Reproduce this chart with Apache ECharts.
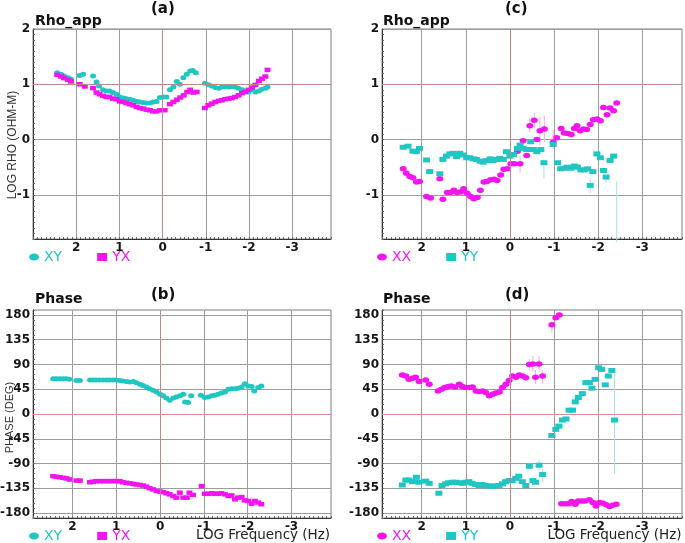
<!DOCTYPE html>
<html><head><meta charset="utf-8">
<script src="https://cdn.jsdelivr.net/npm/echarts@6/dist/echarts.min.js"></script>
<style>html,body{margin:0;padding:0;background:#fff}#c{width:685px;height:543px}</style>
</head><body><div id="c"></div>
<script>
// ---------- data: [log10 frequency (Hz), value] ----------
const rhoXY = [[2.44,1.21],[2.35,1.18],[2.28,1.15],[2.19,1.12],[2.12,1.09],[1.92,1.16],[1.84,1.18],[1.61,1.15],[1.53,1.04],[1.47,0.97],[1.38,0.90],[1.30,0.88],[1.23,0.88],[1.15,0.85],[1.07,0.82],[0.99,0.77],[0.91,0.75],[0.84,0.74],[0.76,0.73],[0.68,0.71],[0.60,0.69],[0.53,0.68],[0.45,0.67],[0.37,0.66],[0.29,0.66],[0.22,0.68],[0.14,0.69],[0.06,0.76],[-0.02,0.77],[-0.09,0.77],[-0.17,0.90],[-0.25,0.95],[-0.33,1.05],[-0.40,1.00],[-0.48,1.12],[-0.56,1.18],[-0.64,1.24],[-0.70,1.25],[-0.77,1.21],[-0.98,1.02],[-1.06,0.99],[-1.14,0.97],[-1.22,0.94],[-1.30,0.93],[-1.37,0.95],[-1.45,0.96],[-1.53,0.95],[-1.60,0.96],[-1.68,0.95],[-1.76,0.93],[-1.84,0.90],[-1.91,0.88],[-1.99,0.86],[-2.07,0.90],[-2.15,0.86],[-2.23,0.88],[-2.30,0.91],[-2.38,0.93],[-2.43,0.95]];
const rhoYX = [[2.44,1.17],[2.35,1.14],[2.28,1.11],[2.19,1.08],[2.12,1.05],[1.92,1.00],[1.80,0.96],[1.61,0.93],[1.53,0.85],[1.46,0.82],[1.38,0.79],[1.30,0.77],[1.23,0.77],[1.15,0.74],[1.07,0.73],[0.99,0.69],[0.91,0.68],[0.84,0.66],[0.76,0.64],[0.68,0.62],[0.60,0.59],[0.53,0.57],[0.45,0.56],[0.37,0.54],[0.29,0.53],[0.22,0.51],[0.14,0.51],[0.06,0.53],[-0.05,0.53],[-0.17,0.64],[-0.25,0.68],[-0.33,0.72],[-0.41,0.76],[-0.49,0.80],[-0.57,0.86],[-0.64,0.90],[-0.71,0.85],[-0.79,0.86],[-0.98,0.57],[-1.06,0.62],[-1.14,0.65],[-1.22,0.68],[-1.30,0.70],[-1.37,0.71],[-1.45,0.73],[-1.53,0.74],[-1.60,0.75],[-1.68,0.77],[-1.76,0.80],[-1.84,0.84],[-1.91,0.86],[-1.99,0.90],[-2.07,0.94],[-2.15,0.99],[-2.23,1.06],[-2.30,1.10],[-2.38,1.14],[-2.43,1.26]];
const phXY = [[2.44,64],[2.37,64],[2.29,64],[2.21,64],[2.14,64],[2.07,63],[1.91,61],[1.83,61],[1.60,62],[1.53,62],[1.46,62],[1.38,62],[1.30,62],[1.22,62],[1.15,62],[1.07,62],[1.00,62],[0.92,61],[0.85,60],[0.77,59],[0.69,58],[0.61,59],[0.54,57],[0.46,54],[0.39,52],[0.31,49],[0.24,46],[0.16,43],[0.08,40],[0.00,36],[-0.07,33],[-0.14,29],[-0.22,25],[-0.30,29],[-0.37,31],[-0.45,33],[-0.53,36],[-0.57,22],[-0.64,21],[-0.71,33],[-0.93,34],[-1.02,30],[-1.10,31],[-1.18,33],[-1.25,34],[-1.32,36],[-1.40,38],[-1.48,40],[-1.56,45],[-1.63,46],[-1.71,46],[-1.78,47],[-1.86,49],[-1.93,55],[-2.01,51],[-2.09,50],[-2.15,42],[-2.24,48],[-2.31,51]];
const phYX = [[2.44,-113],[2.37,-114],[2.29,-115],[2.21,-116],[2.14,-117],[2.07,-119],[1.91,-121],[1.83,-121],[1.60,-124],[1.53,-123],[1.46,-122],[1.38,-122],[1.30,-122],[1.22,-122],[1.15,-122],[1.07,-122],[1.00,-122],[0.92,-122],[0.85,-124],[0.77,-125],[0.69,-126],[0.61,-127],[0.54,-128],[0.46,-129],[0.39,-130],[0.31,-132],[0.24,-135],[0.16,-137],[0.08,-140],[0.00,-141],[-0.07,-142],[-0.14,-144],[-0.22,-146],[-0.30,-149],[-0.37,-152],[-0.45,-143],[-0.53,-152],[-0.61,-152],[-0.67,-143],[-0.75,-147],[-0.95,-131],[-1.02,-145],[-1.10,-145],[-1.18,-144],[-1.25,-145],[-1.32,-145],[-1.40,-144],[-1.48,-146],[-1.56,-149],[-1.63,-148],[-1.71,-155],[-1.78,-152],[-1.86,-151],[-1.93,-157],[-2.01,-158],[-2.09,-163],[-2.16,-158],[-2.24,-161],[-2.31,-164]];
const rhoXX = [[2.42,-0.53],[2.35,-0.61],[2.27,-0.67],[2.20,-0.69],[2.12,-0.77],[2.05,-0.76],[1.89,-1.03],[1.80,-1.06],[1.59,-0.71],[1.52,-1.08],[1.42,-0.96],[1.35,-0.96],[1.27,-0.92],[1.20,-0.96],[1.12,-0.95],[1.05,-0.89],[0.97,-0.97],[0.89,-1.03],[0.82,-1.07],[0.74,-1.05],[0.67,-0.92],[0.59,-0.77],[0.52,-0.76],[0.44,-0.73],[0.36,-0.72],[0.29,-0.74],[0.21,-0.64],[0.14,-0.54],[0.06,-0.53],[-0.02,-0.44],[-0.10,-0.44],[-0.17,-0.21],[-0.23,-0.44],[-0.30,-0.02],[-0.38,-0.29],[-0.45,0.25],[-0.55,0.35],[-0.61,0.00],[-0.68,0.16],[-0.78,0.19],[-0.98,-0.05],[-1.06,0.03],[-1.16,0.20],[-1.23,0.12],[-1.31,0.11],[-1.39,0.09],[-1.46,0.20],[-1.52,0.25],[-1.59,0.16],[-1.67,0.19],[-1.74,0.18],[-1.82,0.27],[-1.89,0.36],[-1.97,0.37],[-2.05,0.34],[-2.12,0.58],[-2.20,0.45],[-2.27,0.57],[-2.35,0.52],[-2.42,0.66]];
const rhoYY = [[2.42,-0.14],[2.31,-0.12],[2.20,-0.21],[2.12,-0.22],[2.05,-0.16],[1.89,-0.37],[1.82,-0.58],[1.59,-0.62],[1.52,-0.36],[1.44,-0.30],[1.36,-0.26],[1.29,-0.25],[1.21,-0.31],[1.14,-0.25],[1.06,-0.28],[0.98,-0.33],[0.91,-0.33],[0.83,-0.35],[0.76,-0.36],[0.68,-0.39],[0.61,-0.41],[0.53,-0.38],[0.45,-0.35],[0.38,-0.38],[0.30,-0.36],[0.23,-0.34],[0.15,-0.36],[0.08,-0.22],[0.00,-0.30],[-0.08,-0.27],[-0.17,-0.16],[-0.23,-0.10],[-0.30,-0.16],[-0.38,-0.18],[-0.47,-0.04],[-0.53,-0.18],[-0.61,-0.22],[-0.70,-0.18],[-0.77,-0.42],[-0.98,-0.09],[-1.08,-0.42],[-1.15,-0.53],[-1.23,-0.52],[-1.30,-0.50],[-1.38,-0.52],[-1.46,-0.48],[-1.53,-0.50],[-1.61,-0.55],[-1.68,-0.55],[-1.76,-0.53],[-1.82,-0.83],[-1.88,-0.58],[-1.97,-0.26],[-2.05,-0.33],[-2.12,-0.56],[-2.18,-0.68],[-2.27,-0.38],[-2.35,-0.30]];
const phXX = [[2.44,71],[2.36,69],[2.29,63],[2.21,65],[2.14,67],[2.06,59],[1.91,62],[1.83,54],[1.63,42],[1.55,45],[1.48,48],[1.40,50],[1.33,51],[1.25,49],[1.15,54],[1.08,50],[1.00,48],[0.92,48],[0.85,49],[0.77,42],[0.70,41],[0.62,42],[0.55,39],[0.47,33],[0.39,36],[0.32,38],[0.24,40],[0.17,48],[0.09,54],[0.02,61],[-0.06,69],[-0.14,67],[-0.21,71],[-0.29,69],[-0.36,66],[-0.44,90],[-0.52,91],[-0.58,67],[-0.66,91],[-0.74,69],[-0.95,162],[-1.04,175],[-1.12,180],[-1.17,-163],[-1.25,-163],[-1.33,-163],[-1.40,-159],[-1.48,-164],[-1.55,-158],[-1.63,-158],[-1.70,-158],[-1.80,-156],[-1.88,-161],[-1.95,-167],[-2.03,-161],[-2.11,-162],[-2.18,-165],[-2.26,-168],[-2.33,-166],[-2.41,-164]];
const phYY = [[2.44,-129],[2.36,-120],[2.29,-120],[2.21,-123],[2.12,-115],[2.06,-124],[1.91,-122],[1.83,-126],[1.61,-144],[1.54,-130],[1.46,-127],[1.39,-125],[1.31,-124],[1.23,-124],[1.16,-125],[1.08,-126],[1.01,-124],[0.93,-123],[0.86,-126],[0.78,-128],[0.70,-130],[0.63,-128],[0.55,-130],[0.48,-131],[0.40,-131],[0.33,-131],[0.25,-130],[0.17,-127],[0.10,-123],[0.02,-121],[-0.05,-121],[-0.13,-117],[-0.20,-113],[-0.28,-123],[-0.36,-130],[-0.44,-95],[-0.52,-121],[-0.58,-124],[-0.66,-93],[-0.74,-110],[-0.95,-39],[-1.04,-28],[-1.11,-22],[-1.19,-11],[-1.27,-9],[-1.34,7],[-1.42,7],[-1.48,22],[-1.55,30],[-1.64,37],[-1.72,57],[-1.80,57],[-1.86,47],[-1.93,63],[-2.01,84],[-2.08,81],[-2.16,53],[-2.23,69],[-2.31,79],[-2.37,-11]];
// error bars: [log f, low, high]
const errRhoXX = [[-0.23,-0.60,-0.30],[-0.45,0.13,0.38],[-0.55,0.20,0.48],[-0.68,-0.10,0.40],[-0.78,-0.05,0.42],[-0.98,-0.17,0.18]];
const errRhoYY = [[-0.77,-0.70,-0.42],[-1.82,-0.97,-0.70],[-2.18,-0.78,-0.60],[-2.42,-1.86,-0.76]];
const errPhXX = [[-0.44,80,100],[-0.52,76,106],[-0.58,55,80],[-0.66,76,106],[-0.74,55,80],[-0.95,148,168]];
const errPhYY = [[-0.44,-100,-88],[-0.66,-104,-82],[-0.74,-125,-100],[-2.37,-109,84]];
const panelLabels = ['(a)','(b)','(c)','(d)'];
const panelTitles = ['Rho_app','Phase','Rho_app','Phase'];

// ---------- styling ----------
const CYAN = '#1fc6c2', MAG = '#f414f0';
const ELL = 'path://M0,3.5a5,3.5 0 1,0 10,0a5,3.5 0 1,0 -10,0Z';
const GRIDC = '#9c9c9c', REDC = '#b88a8a', REDZ = '#df8a8a', CLR = 'rgba(0,0,0,0)';
const isInt = v => Math.abs(v - Math.round(v)) < 1e-6;
const fmtX = v => (isInt(v) && v < 2.5) ? String(Math.round(v)) : '';
const fmtRho = v => isInt(v) ? String(Math.round(v)) : '';
const fmtPh = v => (isInt(v) && Math.round(v) % 45 === 0) ? String(Math.round(v)) : '';
const xSplit = [CLR,CLR,CLR,CLR,CLR,CLR,CLR,CLR,CLR,GRIDC];        // ticks every 0.1 from -3.9
const rhoSplit = [CLR,CLR,CLR,CLR,CLR,CLR,CLR,CLR,GRIDC,CLR];      // ticks every 0.1 from -1.8
const phSplit = [CLR,GRIDC,CLR,CLR,CLR];                           // ticks every 9 from -189
const lblStyle = {fontFamily:'DejaVu Sans', fontWeight:'bold', fontSize:12, color:'#151515'};

const grids = [
  {left:33, top:29, width:298, height:210},
  {left:33, top:310, width:298, height:208},
  {left:382, top:29, width:300, height:210},
  {left:382, top:310, width:300, height:208}
].map(g => Object.assign(g, {show:true, borderColor:'#808080', borderWidth:1, outerBoundsMode:'none', containLabel:false}));

function xAx(i, maxV, nameOpt) {
  return Object.assign({
    type:'value', gridIndex:i, inverse:true, min:-3.9, max:maxV, interval:0.1,
    axisLine:{show:true, onZero:false, lineStyle:{color:'#333', width:1}},
    axisTick:{show:true, inside:true, length:2, lineStyle:{color:'#666'}},
    axisLabel:Object.assign({margin:3, formatter:fmtX, interval:0}, lblStyle),
    splitLine:{show:true, lineStyle:{color:xSplit, width:1}}
  }, nameOpt || {});
}
function yRho(i, named) {
  const a = {
    type:'value', gridIndex:i, min:-1.8, max:2, interval:0.1,
    axisLine:{show:true, onZero:false, lineStyle:{color:'#333', width:1}},
    axisTick:{show:true, inside:true, length:2, lineStyle:{color:'#666'}},
    axisLabel:Object.assign({margin:3, formatter:fmtRho}, lblStyle),
    splitLine:{show:true, lineStyle:{color:rhoSplit, width:1}}
  };
  if (named) Object.assign(a, {name:'LOG RHO (OHM-M)', nameLocation:'middle', nameGap:14, nameRotate:90, nameMoveOverlap:false,
    nameTextStyle:{fontFamily:'Liberation Sans', fontSize:12, color:'#333', padding:[0,22,0,0]}});
  return a;
}
function yPh(i, named) {
  const a = {
    type:'value', gridIndex:i, min:-189, max:189, interval:9,
    axisLine:{show:true, onZero:false, lineStyle:{color:'#333', width:1}},
    axisTick:{show:true, inside:true, length:2, lineStyle:{color:'#666'}},
    axisLabel:Object.assign({margin:3, formatter:fmtPh}, lblStyle),
    splitLine:{show:true, lineStyle:{color:phSplit, width:1}}
  };
  if (named) Object.assign(a, {name:'PHASE (DEG)', nameLocation:'middle', nameGap:18, nameRotate:90, nameMoveOverlap:false,
    nameTextStyle:{fontFamily:'Liberation Sans', fontSize:11, color:'#333', padding:[0,7,0,0]}});
  return a;
}
const freqName = pad => ({name:'LOG Frequency (Hz)', nameLocation:'middle', nameGap:10, nameMoveOverlap:false,
  nameTextStyle:{fontFamily:'DejaVu Sans', fontSize:13.5, color:'#222', padding:[0,0,0,pad], verticalAlign:'top'}});

function pts(name, data, i, symbol, color, size) {
  return {type:'scatter', name, data, xAxisIndex:i, yAxisIndex:i, symbol, symbolSize:size,
    itemStyle:{color, opacity:1}, z:3, silent:true, animation:false};
}
function errs(data, i, color) {
  return {type:'custom', data, xAxisIndex:i, yAxisIndex:i, z:2, silent:true, animation:false,
    encode:{x:0, y:[1,2]},
    renderItem:(p, api) => {
      const a = api.coord([api.value(0), api.value(1)]), b = api.coord([api.value(0), api.value(2)]);
      return {type:'line', shape:{x1:a[0], y1:a[1], x2:b[0], y2:b[1]}, style:{stroke:color, lineWidth:1}};
    }};
}
function refLines(i, lines, color) {
  return {type:'scatter', data:[], xAxisIndex:i, yAxisIndex:i, silent:true, z:1,
    markLine:{silent:true, symbol:['none','none'], animation:false, label:{show:false},
      lineStyle:{color, type:'solid', width:1}, data:lines}};
}

const titleStyle = {fontFamily:'DejaVu Sans', fontWeight:'bold', fontSize:14, color:'#111'};
const labStyle = {fontFamily:'DejaVu Sans', fontWeight:'bold', fontSize:15, color:'#111'};
const titles = [
  {text:panelLabels[0], left:151, top:2, padding:0, textStyle:labStyle},
  {text:panelLabels[1], left:151, top:288, padding:0, textStyle:labStyle},
  {text:panelLabels[2], left:505, top:2, padding:0, textStyle:labStyle},
  {text:panelLabels[3], left:505, top:288, padding:0, textStyle:labStyle},
  {text:panelTitles[0], left:35, top:14, padding:0, textStyle:titleStyle},
  {text:panelTitles[1], left:35, top:292, padding:0, textStyle:titleStyle},
  {text:panelTitles[2], left:383, top:14, padding:0, textStyle:titleStyle},
  {text:panelTitles[3], left:383, top:292, padding:0, textStyle:titleStyle}
];
const legTxt = {fontFamily:'DejaVu Sans', fontSize:14};
function leg(left, top, a, b) {
  return {left, top, padding:0, itemWidth:10, itemHeight:8, itemGap:35, selectedMode:false, textStyle:legTxt, data:[a, b]};
}
const legXY = [{name:'XY', icon:ELL, textStyle:{color:CYAN}}, {name:'YX', icon:'rect', textStyle:{color:MAG}}];
const legXX = [{name:'XX', icon:ELL, textStyle:{color:MAG}}, {name:'YY', icon:'rect', textStyle:{color:CYAN}}];

const chart = echarts.init(document.getElementById('c'), null, {renderer:'canvas'});
chart.setOption({
  animation:false,
  backgroundColor:'#fff',
  title:titles,
  legend:[leg(29,250,legXY[0],legXY[1]), leg(29,529,legXY[0],legXY[1]), leg(377,250,legXX[0],legXX[1]), leg(377,529,legXX[0],legXX[1])],
  grid:grids,
  xAxis:[xAx(0,3), xAx(1,2.9,freqName(162)), xAx(2,2.9), xAx(3,2.9,freqName(165))],
  yAxis:[yRho(0,true), yPh(1,true), yRho(2,false), yPh(3,false)],
  series:[
    refLines(0, [{xAxis:0},{yAxis:1}], REDC),
    refLines(1, [{xAxis:0}], REDC),
    refLines(1, [{yAxis:0}], REDZ),
    refLines(2, [{xAxis:0},{yAxis:1}], REDC),
    refLines(3, [{xAxis:0}], REDC),
    refLines(3, [{yAxis:0}], REDZ),
    errs(errRhoXX, 2, '#f0a8ee'), errs(errRhoYY, 2, '#a8e2e0'),
    errs(errPhXX, 3, '#f0a8ee'), errs(errPhYY, 3, '#a8e2e0'),
    pts('XY', rhoXY, 0, ELL, CYAN, [6,5]),
    pts('YX', rhoYX, 0, 'rect', MAG, [6,4.5]),
    pts('XY', phXY, 1, ELL, CYAN, [6,5]),
    pts('YX', phYX, 1, 'rect', MAG, [6,4.5]),
    pts('XX', rhoXX, 2, ELL, MAG, [7,5.5]),
    pts('YY', rhoYY, 2, 'rect', CYAN, [7,5]),
    pts('XX', phXX, 3, ELL, MAG, [7,5.5]),
    pts('YY', phYY, 3, 'rect', CYAN, [7,5])
  ]
});
</script></body></html>
